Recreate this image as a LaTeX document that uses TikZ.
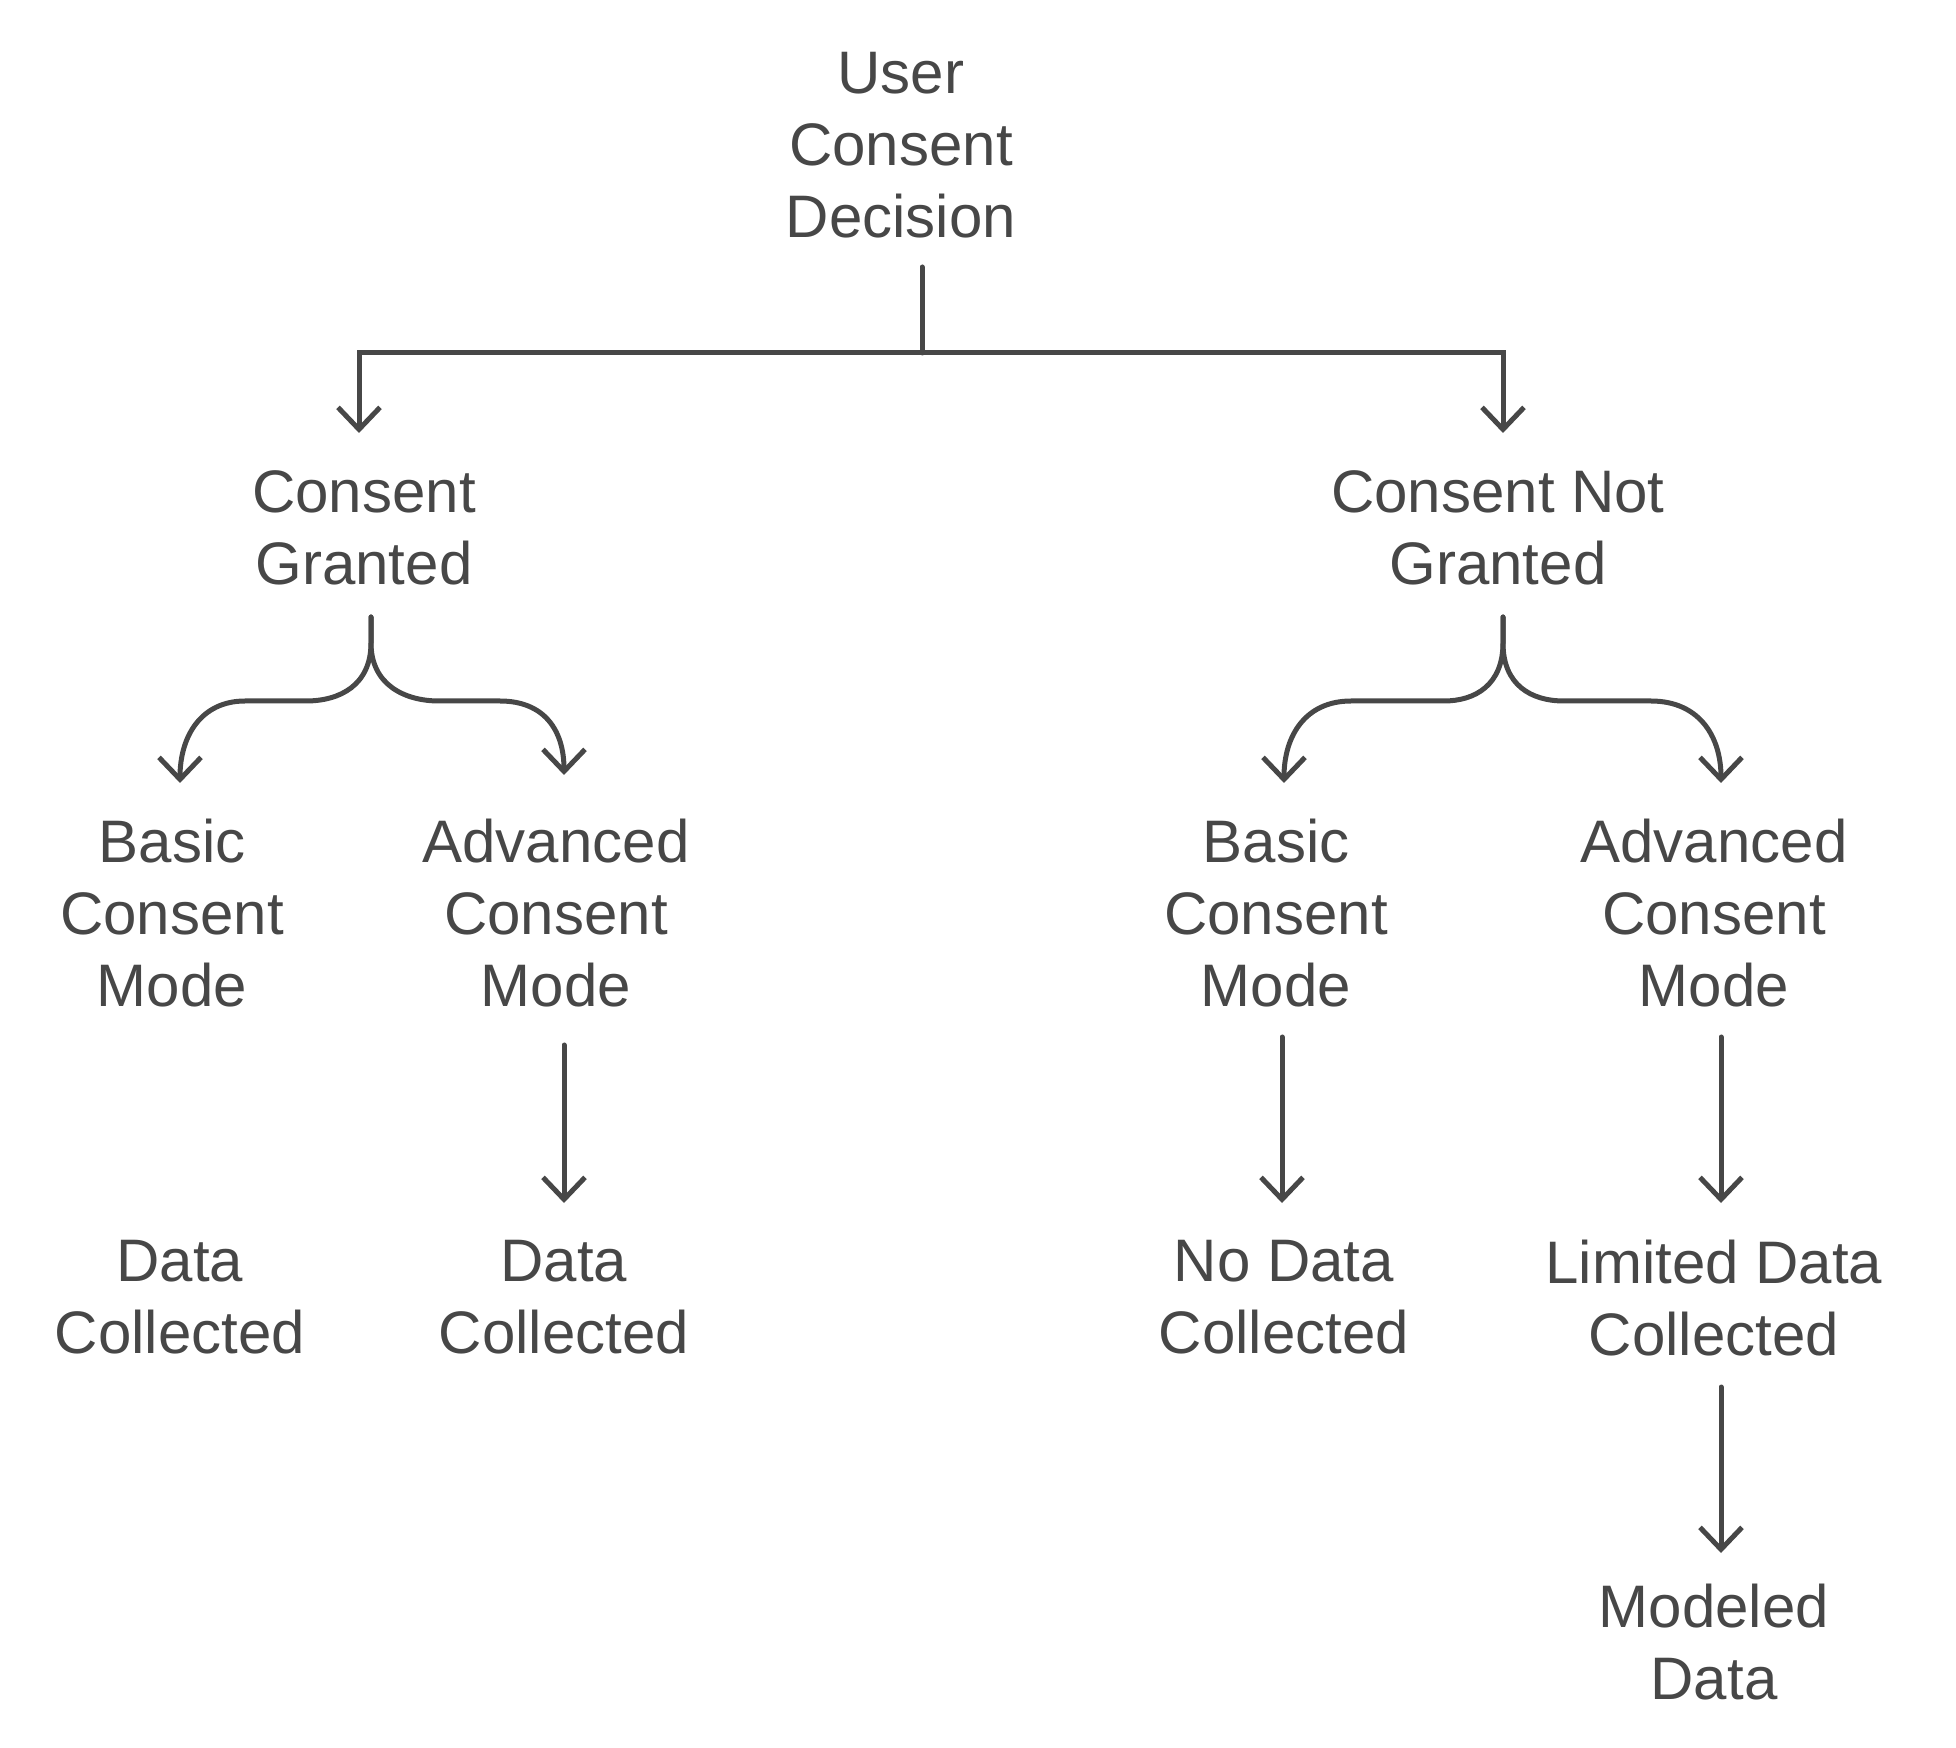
\documentclass[tikz,border=0pt]{standalone}
\usepackage{fontspec}
\setmainfont{Liberation Sans}
\usetikzlibrary{arrows.meta}
\definecolor{ink}{HTML}{474747}
\begin{document}
\begin{tikzpicture}[x=0.5pt,y=-0.5pt,
  lbl/.style={font=\fontsize{30}{36}\selectfont, text=ink, align=center, inner sep=0pt},
  conn/.style={draw=ink, line width=2.5pt, line cap=round},
  arr/.style={conn, -{Straight Barb[length=11pt,width=21pt]}}]
\useasboundingbox (0,0) rectangle (1956,1748);

% nodes
\node[lbl] (ucd)  at (901,145)   {User\\Consent\\Decision};
\node[lbl] (cg)   at (364,528)   {Consent\\Granted};
\node[lbl] (cng)  at (1498,528)  {Consent Not\\Granted};
\node[lbl] (bcl)  at (172,913)   {Basic\\Consent\\Mode};
\node[lbl] (acl)  at (556,913)   {Advanced\\Consent\\Mode};
\node[lbl] (bcr)  at (1276,913)  {Basic\\Consent\\Mode};
\node[lbl] (acr)  at (1714,913)  {Advanced\\Consent\\Mode};
\node[lbl] (dc1)  at (180,1297)  {Data\\Collected};
\node[lbl] (dc2)  at (564,1297)  {Data\\Collected};
\node[lbl] (ndc)  at (1284,1297) {No Data\\Collected};
\node[lbl] (ldc)  at (1714,1298) {Limited Data\\Collected};
\node[lbl] (md)   at (1714,1642) {Modeled\\Data};

% connector points
\coordinate (ucdS) at (922,267);
\coordinate (jn)   at (922,353);
\coordinate (cgT)  at (359,433);
\coordinate (cngT) at (1503,433);
\coordinate (cgS)  at (371,617);
\coordinate (cngS) at (1503,617);
\coordinate (bclT) at (180,783);
\coordinate (aclT) at (564,775);
\coordinate (bcrT) at (1284,783);
\coordinate (acrT) at (1721,783);
\coordinate (aclS) at (564,1045);
\coordinate (dc2T) at (564,1203);
\coordinate (bcrS) at (1282,1037);
\coordinate (ndcT) at (1282,1203);
\coordinate (acrS) at (1721,1037);
\coordinate (ldcT) at (1721,1203);
\coordinate (ldcS) at (1721,1387);
\coordinate (mdT)  at (1721,1553);

% top split
\draw[conn] (ucdS) -- (jn);
\draw[arr] (jn) -| (cgT);
\draw[arr] (jn) -| (cngT);

% left fork
\draw[arr] (cgS) -- (371,643) .. controls (371,685) and (340,701) .. (306,701)
  -- (245,701) .. controls (202,701) and (180,735) .. (bclT);
\draw[arr] (cgS) -- (371,643) .. controls (371,685) and (405,701) .. (439,701)
  -- (500,701) .. controls (544,701) and (564,730) .. (aclT);

% right fork
\draw[arr] (cngS) -- (1503,643) .. controls (1503,685) and (1475,701) .. (1444,701)
  -- (1351,701) .. controls (1306,701) and (1284,735) .. (bcrT);
\draw[arr] (cngS) -- (1503,643) .. controls (1503,685) and (1531,701) .. (1564,701)
  -- (1651,701) .. controls (1698,701) and (1721,735) .. (acrT);

% vertical arrows
\draw[arr] (aclS) -- (dc2T);
\draw[arr] (bcrS) -- (ndcT);
\draw[arr] (acrS) -- (ldcT);
\draw[arr] (ldcS) -- (mdT);
\end{tikzpicture}
\end{document}
